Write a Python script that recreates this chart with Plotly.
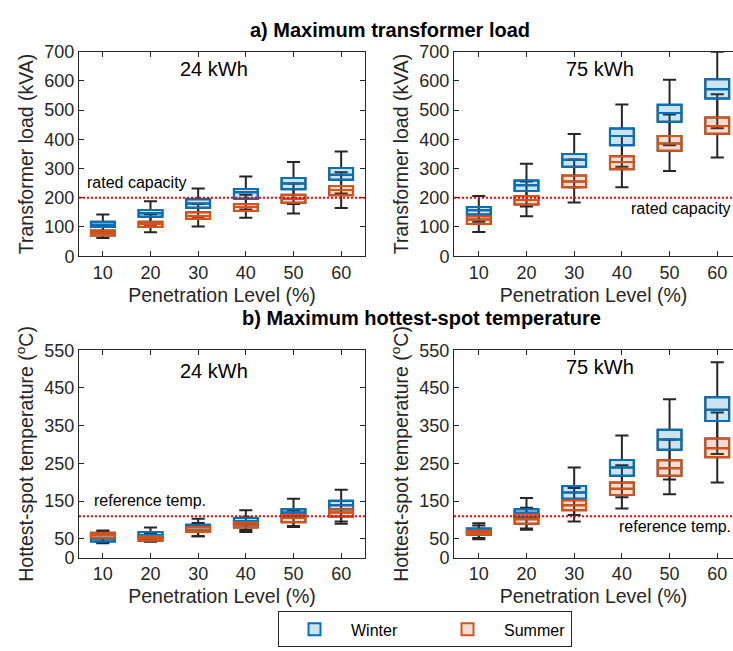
import plotly.graph_objects as go

# ---------------- data ----------------
PEN = [10, 20, 30, 40, 50, 60]
X_TICKS = [10, 20, 30, 40, 50, 60]
LOAD_TICKS = [0, 100, 200, 300, 400, 500, 600, 700]
TEMP_TICKS = [0, 50, 150, 250, 350, 450, 550]
RATED_CAPACITY = 200
REFERENCE_TEMP = 110

# Transformer load, 24 kWh
L24_W_Q1 = [100, 135, 166, 197, 229, 262]
L24_W_MED = [108, 147, 180, 219, 249, 279]
L24_W_Q3 = [118, 158, 195, 230, 268, 302]
L24_W_MIN = [80, 108, 135, 160, 179, 215]
L24_W_MAX = [143, 188, 232, 273, 322, 358]
L24_S_Q1 = [71, 100, 127, 155, 183, 209]
L24_S_MED = [80, 110, 138, 168, 197, 227]
L24_S_Q3 = [88, 118, 150, 179, 210, 240]
L24_S_MIN = [62, 82, 102, 132, 146, 165]
L24_S_MAX = [105, 144, 179, 210, 249, 287]

# Transformer load, 75 kWh
L75_W_Q1 = [143, 223, 306, 380, 460, 540]
L75_W_MED = [157, 243, 330, 411, 490, 571]
L75_W_Q3 = [168, 259, 350, 437, 518, 606]
L75_W_MIN = [118, 170, 236, 306, 380, 438]
L75_W_MAX = [206, 316, 418, 519, 604, 700]
L75_S_Q1 = [110, 177, 236, 298, 361, 419]
L75_S_MED = [126, 192, 256, 322, 386, 446]
L75_S_Q3 = [137, 206, 276, 342, 411, 475]
L75_S_MIN = [83, 137, 184, 236, 292, 338]
L75_S_MAX = [168, 256, 331, 411, 485, 554]

# Hottest-spot temperature, 24 kWh
T24_W_Q1 = [43, 53, 73, 88, 109, 128]
T24_W_MED = [51, 60, 81, 97, 120, 139]
T24_W_Q3 = [60, 68, 87, 105, 128, 151]
T24_W_MIN = [38, 47, 57, 68, 84, 96]
T24_W_MAX = [68, 80, 103, 126, 156, 180]
T24_S_Q1 = [53, 45, 68, 80, 94, 109]
T24_S_MED = [60, 51, 74, 87, 105, 120]
T24_S_Q3 = [66, 57, 81, 94, 114, 128]
T24_S_MIN = [42, 42, 57, 73, 81, 90]
T24_S_MAX = [72, 65, 92, 107, 126, 150]

# Hottest-spot temperature, 75 kWh
T75_W_Q1 = [64, 107, 156, 217, 286, 362]
T75_W_MED = [70, 119, 173, 239, 313, 392]
T75_W_Q3 = [77, 128, 190, 259, 339, 425]
T75_W_MIN = [52, 77, 113, 160, 207, 275]
T75_W_MAX = [91, 158, 239, 324, 420, 518]
T75_S_Q1 = [61, 90, 126, 166, 217, 266]
T75_S_MED = [66, 102, 139, 183, 237, 290]
T75_S_Q3 = [72, 115, 152, 199, 258, 316]
T75_S_MIN = [49, 74, 96, 130, 168, 199]
T75_S_MAX = [85, 132, 185, 245, 313, 385]

# ---------------- styling ----------------
W = 733
H = 651
FONT = "Liberation Sans, Arial, sans-serif"
INK = "#262626"
WIN_LINE = "#0072BD"
WIN_FILL = "rgba(0,114,189,0.2)"
SUM_LINE = "#D95319"
SUM_FILL = "rgba(217,83,25,0.2)"
BOX_W = 5.0


def px(x):
    return x / W


def py(y):
    return 1 - y / H


fig = go.Figure()

panels = [
    ("x", "y", (L24_W_Q1, L24_W_MED, L24_W_Q3, L24_W_MIN, L24_W_MAX),
     (L24_S_Q1, L24_S_MED, L24_S_Q3, L24_S_MIN, L24_S_MAX)),
    ("x2", "y2", (L75_W_Q1, L75_W_MED, L75_W_Q3, L75_W_MIN, L75_W_MAX),
     (L75_S_Q1, L75_S_MED, L75_S_Q3, L75_S_MIN, L75_S_MAX)),
    ("x3", "y3", (T24_W_Q1, T24_W_MED, T24_W_Q3, T24_W_MIN, T24_W_MAX),
     (T24_S_Q1, T24_S_MED, T24_S_Q3, T24_S_MIN, T24_S_MAX)),
    ("x4", "y4", (T75_W_Q1, T75_W_MED, T75_W_Q3, T75_W_MIN, T75_W_MAX),
     (T75_S_Q1, T75_S_MED, T75_S_Q3, T75_S_MIN, T75_S_MAX)),
]

LEGEND_W = {"Winter": 75, "Summer": 62}

for i, (xa, ya, win, summ) in enumerate(panels):
    # black whiskers (drawn first, boxes cover their outlines)
    for q1, med, q3, lo, hi in (win, summ):
        fig.add_trace(go.Box(
            x=PEN, q1=q1, median=med, q3=q3, lowerfence=lo, upperfence=hi,
            width=BOX_W, whiskerwidth=0.55, boxpoints=False,
            line=dict(color=INK, width=2), fillcolor="rgba(0,0,0,0)",
            showlegend=False, hoverinfo="skip", xaxis=xa, yaxis=ya))
    # coloured boxes
    for (q1, med, q3, lo, hi), name, lc, fc in ((win, "Winter", WIN_LINE, WIN_FILL),
                                                 (summ, "Summer", SUM_LINE, SUM_FILL)):
        fig.add_trace(go.Box(
            x=PEN, q1=q1, median=med, q3=q3, lowerfence=q1, upperfence=q3,
            width=BOX_W, whiskerwidth=0, boxpoints=False,
            line=dict(color=lc, width=2), fillcolor=fc,
            name=name, legendgroup=name, showlegend=(i == 0),
            legendwidth=LEGEND_W[name],
            hoverinfo="skip", xaxis=xa, yaxis=ya))

# reference lines
for xa, ya, val in (("x", "y", RATED_CAPACITY), ("x2", "y2", RATED_CAPACITY),
                    ("x3", "y3", REFERENCE_TEMP), ("x4", "y4", REFERENCE_TEMP)):
    fig.add_shape(type="line", xref=f"{xa} domain", yref=ya, x0=0, x1=1, y0=val, y1=val,
                  line=dict(color="#FF0000", width=2, dash="2px,2px"), layer="above")

TOP_Y = [py(254), py(43)]
BOT_Y = [py(565), py(351)]
LEFT_X = [px(79), px(365)]
RIGHT_X = [px(454), 1.0]

common_x = dict(tickvals=X_TICKS, ticks="inside", ticklen=5, tickcolor=INK,
                showline=True, linecolor=INK, linewidth=1, mirror="ticks",
                showgrid=False, zeroline=False,
                tickfont=dict(family=FONT, size=18, color=INK),
                title=dict(text="Penetration Level (%)", standoff=6,
                           font=dict(family=FONT, size=19.5, color=INK)))


def yax(dom, ticks, rng, title, mirror, anchor):
    return dict(domain=dom, range=rng, tickvals=ticks, ticks="inside", ticklen=5,
                tickcolor=INK, showline=True, linecolor=INK, linewidth=1,
                mirror=mirror, showgrid=False, zeroline=False, anchor=anchor,
                tickfont=dict(family=FONT, size=18, color=INK),
                title=dict(text=title, standoff=5,
                           font=dict(family=FONT, size=19.5, color=INK)))


LOAD_TITLE = "Transformer load (kVA)"
TEMP_TITLE = "Hottest-spot temperature (<sup>o</sup>C)"

fig.update_layout(
    width=W, height=H,
    margin=dict(l=0, r=0, t=0, b=0),
    paper_bgcolor="white", plot_bgcolor="white",
    boxmode="overlay",
    font=dict(family=FONT, color=INK),
    xaxis=dict(domain=LEFT_X, range=[5, 65], anchor="y", **common_x),
    xaxis2=dict(domain=RIGHT_X, range=[4.8, 63.3], anchor="y2", **common_x),
    xaxis3=dict(domain=LEFT_X, range=[5, 65], anchor="y3", **common_x),
    xaxis4=dict(domain=RIGHT_X, range=[4.8, 63.3], anchor="y4", **common_x),
    yaxis=yax(TOP_Y, LOAD_TICKS, [0, 700], LOAD_TITLE, "ticks", "x"),
    yaxis2=yax(TOP_Y, LOAD_TICKS, [0, 700], LOAD_TITLE, False, "x2"),
    yaxis3=yax(BOT_Y, TEMP_TICKS, [0, 550], TEMP_TITLE, "ticks", "x3"),
    yaxis4=yax(BOT_Y, TEMP_TICKS, [0, 550], TEMP_TITLE, False, "x4"),
    legend=dict(orientation="h", x=px(278), xanchor="left", y=py(639), yanchor="middle",
                bordercolor=INK, borderwidth=1, bgcolor="white",
                font=dict(family=FONT, size=16, color="#000000"),
                itemwidth=63, tracegroupgap=0),
)

anns = [
    ("<b>a) Maximum transformer load</b>", 390, 21, "center", 20),
    ("<b>b) Maximum hottest-spot temperature</b>", 421, 318, "center", 20),
    ("24 kWh", 214, 61, "center", 20),
    ("75 kWh", 600, 61, "center", 20),
    ("24 kWh", 214, 372, "center", 20),
    ("75 kWh", 600, 368, "center", 20),
    ("rated capacity", 85, 178, "left", 16),
    ("rated capacity", 733, 205, "right", 16),
    ("reference temp.", 92, 506, "left", 16),
    ("reference temp.", 733, 533, "right", 16),
]
for text, x, y, anc, size in anns:
    fig.add_annotation(text=text, x=px(x), y=py(y), xref="paper", yref="paper",
                       xanchor=anc, yanchor="middle", showarrow=False,
                       font=dict(family=FONT, size=size, color="#000000"))

fig.write_html("out.html")
